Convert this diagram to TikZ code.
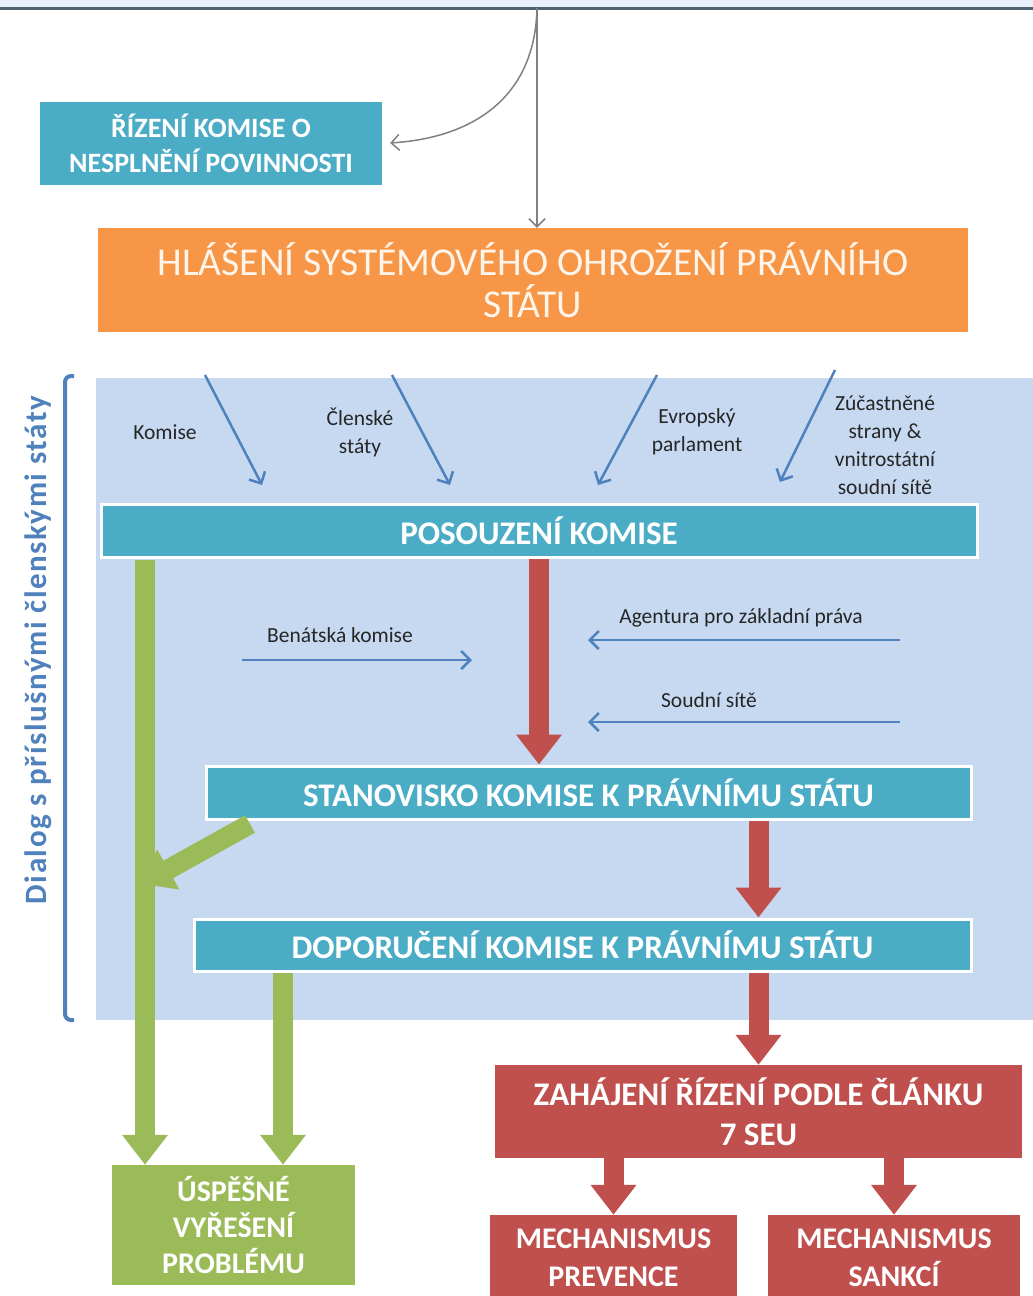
\documentclass[tikz,border=0pt]{standalone}
\usepackage{fontspec}
\setmainfont{Carlito}
\usetikzlibrary{arrows.meta}
\definecolor{boxteal}{HTML}{4BACC6}
\definecolor{boxorange}{HTML}{F79646}
\definecolor{boxred}{HTML}{C0504D}
\definecolor{boxgreen}{HTML}{9BBB59}
\definecolor{panelblue}{HTML}{C6D9F1}
\definecolor{feedblue}{HTML}{4F81BD}
\definecolor{topline}{HTML}{4F6272}
\begin{document}
\begin{tikzpicture}[x=1pt, y=-1pt,
    box/.style={fill=#1, text=white, align=center, inner sep=0pt,
      font=\bfseries\fontsize{33}{40}\selectfont},
    framed/.style={draw=white, line width=3pt},
    fatarrow/.style={draw=#1, line width=20pt, -{Triangle[width=44pt,length=30pt]}},
    feed/.style={draw=feedblue, line width=2.5pt, -{Straight Barb[length=9pt,width=18pt]}},
    link/.style={draw=black!50, line width=1.5pt, -{Straight Barb[length=8pt,width=16pt]}},
    lbl/.style={text=black!85, align=center, font=\fontsize{21.5}{28}\selectfont}]
    \useasboundingbox (0,0) rectangle (1033,1296);
    % top band and panel
    \fill[panelblue!40] (0,0) rectangle (1033,7);
    \draw[topline, line width=3pt] (0,8) -- (1033,8);
    \fill[panelblue] (96,378) rectangle (1033,1020);
    \draw[feedblue, line width=4pt, rounded corners=6pt] (74,376) -- (65,376) -- (65,1020) -- (74,1020);
    \node[rotate=90, text=feedblue, font=\bfseries\fontsize{31}{34}\selectfont\addfontfeature{LetterSpace=5}] (dialog) at (38,650) {Dialog s příslušnými členskými státy};

    % boxes
    \node[box=boxteal, minimum width=342, minimum height=83, font=\bfseries\fontsize{28}{35}\selectfont] (rizeni) at (211,143.5) {ŘÍZENÍ KOMISE O\\NESPLNĚNÍ POVINNOSTI};
    \node[box=boxorange, minimum width=870, minimum height=104, text=orange!8, font=\fontsize{39.5}{42}\selectfont] (hlaseni) at (533,280) {HLÁŠENÍ SYSTÉMOVÉHO OHROŽENÍ PRÁVNÍHO\\STÁTU};
    \node[box=boxteal, framed, minimum width=876, minimum height=53] (posouzeni) at (539,531) {POSOUZENÍ KOMISE};
    \node[box=boxteal, framed, minimum width=765, minimum height=53] (stanovisko) at (588.5,792.5) {STANOVISKO KOMISE K PRÁVNÍMU STÁTU};
    \node[box=boxteal, framed, minimum width=777, minimum height=52] (doporuceni) at (582.5,945) {DOPORUČENÍ KOMISE K PRÁVNÍMU STÁTU};
    \node[box=boxred, minimum width=527, minimum height=93] (zahajeni) at (758.5,1111.5) {ZAHÁJENÍ ŘÍZENÍ PODLE ČLÁNKU\\7 SEU};
    \node[box=boxgreen, minimum width=243, minimum height=120, font=\bfseries\fontsize{30}{36}\selectfont] (uspesne) at (233.5,1225) {ÚSPĚŠNÉ\\VYŘEŠENÍ\\PROBLÉMU};
    \node[box=boxred, minimum width=247, minimum height=85, font=\bfseries\fontsize{30}{38}\selectfont] (prevence) at (613.5,1257.5) {MECHANISMUS\\PREVENCE};
    \node[box=boxred, minimum width=252, minimum height=85, font=\bfseries\fontsize{30}{38}\selectfont] (sankci) at (894,1257.5) {MECHANISMUS\\SANKCÍ};

    % labels
    \node[lbl] (komise) at (165,432) {Komise};
    \node[lbl] (clenske) at (360,432) {Členské\\státy};
    \node[lbl] (evropsky) at (697,432) {Evropský\\parlament};
    \node[lbl] (zucastnene) at (885,445) {Zúčastněné\\strany \&\\vnitrostátní\\soudní sítě};
    \node[lbl] (benatska) at (340,635) {Benátská komise};
    \node[lbl] (agentura) at (741,618) {Agentura pro základní práva};
    \node[lbl] (soudni) at (709,700) {Soudní sítě};

    % free ends
    \coordinate (top) at (537,8);
    \coordinate (k1) at (205,375);    \coordinate (k2) at (262,485);
    \coordinate (c1) at (392,375);    \coordinate (c2) at (450,485);
    \coordinate (e1) at (657,375);    \coordinate (e2) at (598,485);
    \coordinate (z1) at (835,370);    \coordinate (z2) at (780,482);
    \coordinate (b1) at (242,660);    \coordinate (b2) at (472,660);
    \coordinate (a1) at (900,640);    \coordinate (a2) at (588,640);
    \coordinate (s1) at (900,722);    \coordinate (s2) at (588,722);
    \coordinate (gleft) at (145,560);
    \coordinate (gright) at (283,0);
    \coordinate (d1) at (250,824);    \coordinate (d2) at (142,884);

    % connectors
    \draw[link] (top) -- (top |- hlaseni.north);
    \draw[link, shorten >=8pt] (top) .. controls (535,100) and (470,138) .. (rizeni.east);
    \foreach \from/\to in {k1/k2, c1/c2, e1/e2, z1/z2, b1/b2, a1/a2, s1/s2}
      \draw[feed] (\from) -- (\to);
    \draw[fatarrow=boxred] (posouzeni.south) -- (posouzeni.south |- stanovisko.north);
    \draw[fatarrow=boxred] (stanovisko.south -| zahajeni.north) -- (doporuceni.north -| zahajeni.north);
    \draw[fatarrow=boxred] (doporuceni.south -| zahajeni.north) -- (zahajeni.north);
    \draw[fatarrow=boxred] (zahajeni.south -| prevence.north) -- (prevence.north);
    \draw[fatarrow=boxred] (zahajeni.south -| sankci.north) -- (sankci.north);
    \draw[fatarrow=boxgreen] (gleft) -- (gleft |- uspesne.north);
    \draw[fatarrow=boxgreen] (doporuceni.south -| gright) -- (uspesne.north -| gright);
    \draw[fatarrow=boxgreen] (d1) -- (d2);
\end{tikzpicture}
\end{document}
